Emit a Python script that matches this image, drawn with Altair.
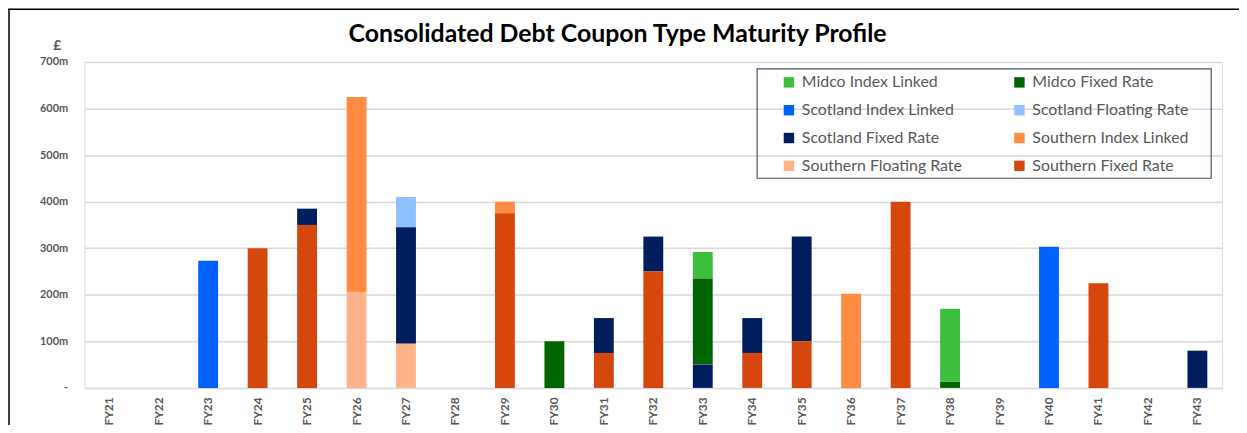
import altair as alt
import pandas as pd

years = ["FY21","FY22","FY23","FY24","FY25","FY26","FY27","FY28","FY29","FY30","FY31","FY32",
         "FY33","FY34","FY35","FY36","FY37","FY38","FY39","FY40","FY41","FY42","FY43"]

# legend order (column-major so it reads row by row as in the reference)
series = ["Midco Index Linked","Scotland Index Linked","Scotland Fixed Rate","Southern Floating Rate",
          "Midco Fixed Rate","Scotland Floating Rate","Southern Index Linked","Southern Fixed Rate"]
colors = ["#3DBE3D","#0061FF","#001D5E","#FFB38A","#006400","#8EC1FF","#FF8C42","#D6470D"]

# stacking order, bottom to top
stack_order = ["Southern Fixed Rate","Southern Floating Rate","Southern Index Linked",
               "Scotland Fixed Rate","Scotland Floating Rate","Scotland Index Linked",
               "Midco Fixed Rate","Midco Index Linked"]

# values in £m, per year (FY21..FY43)
values = {
    "Midco Index Linked":     [0,0,0,0,0,0,0,0,0,0,0,0,57,0,0,0,0,157,0,0,0,0,0],
    "Midco Fixed Rate":       [0,0,0,0,0,0,0,0,0,100,0,0,185,0,0,0,0,13,0,0,0,0,0],
    "Scotland Index Linked":  [0,0,273,0,0,0,0,0,0,0,0,0,0,0,0,0,0,0,0,303,0,0,0],
    "Scotland Floating Rate": [0,0,0,0,0,0,65,0,0,0,0,0,0,0,0,0,0,0,0,0,0,0,0],
    "Scotland Fixed Rate":    [0,0,0,0,35,0,250,0,0,0,75,75,50,75,225,0,0,0,0,0,0,0,80],
    "Southern Index Linked":  [0,0,0,0,0,420,0,0,25,0,0,0,0,0,0,202,0,0,0,0,0,0,0],
    "Southern Floating Rate": [0,0,0,0,0,205,95,0,0,0,0,0,0,0,0,0,0,0,0,0,0,0,0],
    "Southern Fixed Rate":    [0,0,0,300,350,0,0,0,375,0,75,250,0,75,100,0,400,0,0,0,225,0,0],
}

rows = []
for name, vals in values.items():
    for y, v in zip(years, vals):
        rows.append({"year": y, "series": name, "value": v, "stack": stack_order.index(name)})
df = pd.DataFrame(rows)

FONT = "Lato"
LABEL_GRAY = "#595959"

bars = alt.Chart(df).mark_bar(size=20).encode(
    x=alt.X("year:N", sort=years, scale=alt.Scale(domain=years),
            axis=alt.Axis(title=None, labelAngle=-90, labelAlign="right", labelBaseline="middle",
                          labelPadding=9, ticks=False, domain=False, labelFontWeight="bold",
                          labelColor=LABEL_GRAY, labelFontSize=12, labelFont=FONT)),
    y=alt.Y("value:Q", stack="zero", scale=alt.Scale(domain=[0, 700], nice=False),
            axis=alt.Axis(title="£", titleAngle=0, titleAlign="center", titleBaseline="middle",
                          titleX=-28, titleY=-17, titleFontSize=14, titleFontWeight="bold",
                          titleColor=LABEL_GRAY, titleFont=FONT,
                          values=[0,100,200,300,400,500,600,700],
                          labelExpr="datum.value == 0 ? '-' : datum.value + 'm'",
                          labelPadding=17, ticks=False, domain=False, labelFontWeight="bold",
                          labelColor=LABEL_GRAY, labelFontSize=11, labelFont=FONT,
                          grid=True, gridColor="#D9D9D9", gridWidth=1.5)),
    color=alt.Color("series:N", scale=alt.Scale(domain=series, range=colors),
                    legend=alt.Legend(title=None, orient="none", legendX=701, legendY=12.5,
                                      columns=2, columnPadding=49, rowPadding=12,
                                      symbolType="square", symbolSize=110, symbolStrokeWidth=0,
                                      labelFontSize=16, labelColor=LABEL_GRAY, labelFont=FONT,
                                      labelOffset=5, labelLimit=300)),
    order=alt.Order("stack:Q", sort="ascending"),
)

legend_box = alt.Chart(pd.DataFrame({"k": [0]})).mark_rect(
    fill=None, stroke="#44546A", strokeWidth=1.2
).encode(x=alt.value(677), x2=alt.value(1134), y=alt.value(7), y2=alt.value(117))

frame_top = alt.Chart(pd.DataFrame({"k": [0]})).mark_rule(color="black", strokeWidth=1.5).encode(
    x=alt.value(-77), x2=alt.value(1170), y=alt.value(-53))
frame_left = alt.Chart(pd.DataFrame({"k": [0]})).mark_rule(color="black", strokeWidth=1.5).encode(
    x=alt.value(-76), y=alt.value(-53), y2=alt.value(380))

chart = alt.layer(bars, legend_box, frame_top, frame_left).properties(
    width=1145, height=328,
    title=alt.TitleParams("Consolidated Debt Coupon Type Maturity Profile", fontSize=25,
                          fontWeight="bold", font=FONT, color="black", anchor="middle",
                          baseline="alphabetic", dx=-36, offset=-59),
    autosize=alt.AutoSizeParams(type="none"),
    padding={"left": 77, "top": 53, "right": 17, "bottom": 36},
).configure_view(stroke=None).configure(background="white")

chart.save("out.html", embed_options={"renderer": "svg", "actions": False})
